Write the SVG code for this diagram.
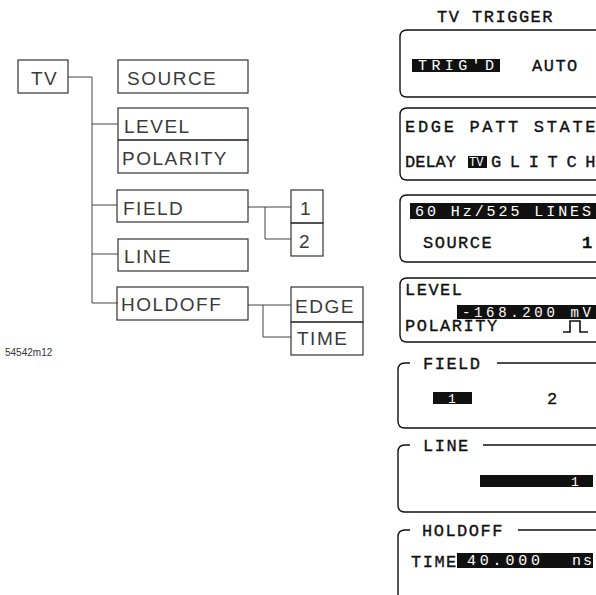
<svg xmlns="http://www.w3.org/2000/svg" width="596" height="595" viewBox="0 0 596 595">
<style>
.bx{fill:none;stroke:#333;stroke-width:1.2}
.cn{fill:none;stroke:#444;stroke-width:1}
.tl{font-family:"Liberation Sans",Arial,sans-serif;font-size:19px;fill:#3a3a3a;letter-spacing:1.5px}
.pn{fill:none;stroke:#111;stroke-width:1.4}
.mt{font-family:"Liberation Mono","DejaVu Sans Mono",monospace;font-size:17px;fill:#111;stroke:#111;stroke-width:0.35;letter-spacing:1.5px}
.inv{fill:#111}
.it{font-family:"Liberation Mono","DejaVu Sans Mono",monospace;font-size:15px;fill:#fff;letter-spacing:2px}
</style>
<rect width="596" height="595" fill="#fff"/>
<g id="connectors">
<path class="cn" d="M68 77H92M92 77V303M92 124H118M92 205H117M92 254H118M92 303H118"/>
<path class="cn" d="M248 207H291M265 207V239H291"/>
<path class="cn" d="M248 305H291M263 305V337H291"/>
</g>
<g id="n-tv"><rect class="bx" x="18" y="60" width="50" height="33"/><text class="tl" x="31" y="85">TV</text></g>
<g id="n-source"><rect class="bx" x="118" y="60" width="130" height="33"/><text class="tl" x="127" y="85">SOURCE</text></g>
<g id="n-level"><rect class="bx" x="118" y="108" width="130" height="32"/><text class="tl" x="124" y="133">LEVEL</text></g>
<g id="n-polarity"><rect class="bx" x="118" y="140" width="130" height="33"/><text class="tl" x="122" y="165">POLARITY</text></g>
<g id="n-field"><rect class="bx" x="117" y="190" width="131" height="32"/><text class="tl" x="123" y="215">FIELD</text></g>
<g id="n-line"><rect class="bx" x="118" y="239" width="130" height="32"/><text class="tl" x="124" y="263">LINE</text></g>
<g id="n-holdoff"><rect class="bx" x="117" y="287" width="131" height="33"/><text class="tl" x="121" y="311">HOLDOFF</text></g>
<g id="n-1"><rect class="bx" x="291" y="190" width="32" height="33"/><text class="tl" x="300" y="215">1</text></g>
<g id="n-2"><rect class="bx" x="291" y="223" width="32" height="33"/><text class="tl" x="299" y="248">2</text></g>
<g id="n-edge"><rect class="bx" x="291" y="287" width="72" height="35"/><text class="tl" x="295" y="313">EDGE</text></g>
<g id="n-time"><rect class="bx" x="291" y="322" width="72" height="33"/><text class="tl" x="297" y="345">TIME</text></g>
<text x="5" y="356" style="font-family:'Liberation Sans',Arial,sans-serif;font-size:10px;fill:#333">54542m12</text>

<g id="screen">
<text class="mt" x="437" y="22">TV TRIGGER</text>
<path class="pn" d="M596 30H407Q400 30 400 37V90Q400 97 407 97H596"/>
<rect class="inv" x="412" y="59" width="88" height="13"/>
<text class="it" x="418" y="70" textLength="78">TRIG'D</text>
<text class="mt" x="532" y="71">AUTO</text>

<path class="pn" d="M596 108H407Q400 108 400 115V173Q400 180 407 180H596"/>
<text class="mt" x="405" y="132" textLength="192">EDGE PATT STATE</text>
<text class="mt" x="405" y="167" style="letter-spacing:0">DELAY</text>
<rect class="inv" x="468" y="156" width="19" height="12"/>
<text class="it" x="469" y="166" style="font-size:12px;letter-spacing:0">TV</text>
<text class="mt" x="491" y="167" textLength="106">GLITCH</text>

<path class="pn" d="M596 195H407Q400 195 400 202V255Q400 262 407 262H596"/>
<rect class="inv" x="410" y="203" width="186" height="16"/>
<text class="it" x="415" y="216" textLength="178">60 Hz/525 LINES</text>
<text class="mt" x="423" y="248">SOURCE</text>
<text class="mt" x="582" y="248" style="font-weight:bold">1</text>

<path class="pn" d="M596 278H407Q400 278 400 285V335Q400 342 407 342H596"/>
<text class="mt" x="405" y="295">LEVEL</text>
<rect class="inv" x="457" y="305" width="139" height="14"/>
<text class="it" x="462" y="317" style="font-size:14px" textLength="131">-168.200  mV</text>
<text class="mt" x="405" y="331">POLARITY</text>
<path fill="none" stroke="#111" stroke-width="1.6" d="M563 332H570V321H580V332H588"/>

<path class="pn" d="M410 363H405Q398 363 398 370V421Q398 428 405 428H596M497 363H596"/>
<text class="mt" x="423" y="369">FIELD</text>
<rect class="inv" x="433" y="392" width="39" height="12"/>
<text class="it" x="448" y="403" style="font-size:13px">1</text>
<text class="mt" x="547" y="404">2</text>

<path class="pn" d="M410 445H405Q398 445 398 452V505Q398 512 405 512H596M483 445H596"/>
<text class="mt" x="423" y="451">LINE</text>
<rect class="inv" x="480" y="475" width="113" height="12"/>
<text class="it" x="571" y="486" style="font-size:13px">1</text>

<path class="pn" d="M410 530H405Q398 530 398 537V595M518 530H596"/>
<text class="mt" x="422" y="536">HOLDOFF</text>
<text class="mt" x="411" y="567">TIME</text>
<rect class="inv" x="457" y="553" width="136" height="15"/>
<text class="it" x="467" y="565" textLength="75">40.000</text>
<text class="it" x="572" y="565">ns</text>
</g>
</svg>
